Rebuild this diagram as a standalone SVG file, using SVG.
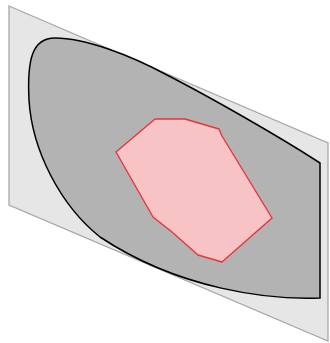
<svg xmlns="http://www.w3.org/2000/svg" width="330" height="343" viewBox="0 0 330 343">
<style>
.plane{fill:#e6e6e6;stroke:#a8a8a8;stroke-width:1.3}
.region{fill:#b3b3b3;stroke:#000;stroke-width:1.5}
.hull{fill:#f8c3c4;stroke:#e8353b;stroke-width:1.4;stroke-linejoin:round}
</style>
<rect width="330" height="343" fill="#fff"/>
<g id="plane"><polygon class="plane" points="9,6 328,143 328,341 9,205"/></g>
<g id="region"><path class="region" d="M320,163 L320,298 C270,300 180,290 100,237 C60,205 32,150 29,100 C27,60 32,38 55,38 C85,38 130,55 167,75 C210,97 280,137 320,163 Z"/></g>
<g id="hull"><polygon class="hull" points="155,119 185,119 219,129 222,136 272,218 222,262 198,255 172,232 153,217 116,152"/></g>
</svg>
